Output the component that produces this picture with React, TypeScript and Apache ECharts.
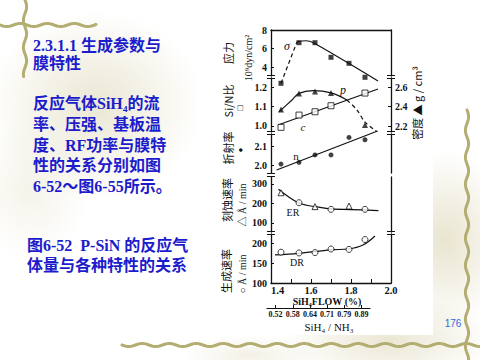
import React, { useEffect, useRef } from "react";
import * as echarts from "echarts";

// ---- data ----
const flowPts = [1.45, 1.54, 1.62, 1.7, 1.79, 1.87];
const stressPts = [2.24, 6.63, 6.63, 5.05, 4.4, 2.89];
const siNPts = [0.993, 1.056, 1.073, 1.104, null, 1.169];
const densityPts = [2.369, 2.533, 2.554, 2.538, null, 2.21];
const indexPts = [2.005, 2.014, 2.053, 2.053, 2.145, 2.133];
const erPts = [255, 204, 184, 170, 187, 170];
const erMarks = ["triangle", "circle", "triangle", "circle", "triangle", "circle"];
const drPts = [178, 176, 177, 186, 185, 210];

// hand-drawn fit curves [flow, value]
const stressFitDash = [[1.45, 2.24], [1.53, 6.72]];
const stressFit = [[1.53, 6.72], [1.575, 6.84], [1.61, 6.64], [1.935, 2.49]];
const siNFit = [[1.435, 1.005], [1.935, 1.19]];
const densityFit = [[1.44, 2.345], [1.505, 2.467], [1.54, 2.535], [1.61, 2.562], [1.7, 2.54], [1.78, 2.467]];
const densityFitDash = [[1.78, 2.467], [1.83, 2.364], [1.87, 2.24], [1.93, 2.142]];
const indexFit = [[1.428, 1.974], [1.933, 2.179]];
const erFit = [[1.437, 273], [1.487, 235], [1.537, 204], [1.578, 191], [1.62, 184], [1.7, 172], [1.8, 169], [1.937, 163]];
const drFit = [[1.42, 171], [1.537, 175], [1.7, 184], [1.787, 186], [1.86, 196], [1.92, 219]];

// tick labels
const flowLabels = [1.4, 1.6, 1.8, 2.0];
const flowTicks = [1.5, 1.6, 1.7, 1.8, 1.9];
const stressTicks = [4, 6, 8];
const siNTicks = [1.0, 1.1, 1.2];
const densityTicks = [2.2, 2.4, 2.6];
const indexTicks = [2.0, 2.1];
const erTicks = [100, 200, 300];
const drTicks = [100, 150, 200];
const ratioLabels = ["0.52", "0.58", "0.64", "0.71", "0.79", "0.89"];

const SERIF = '"Liberation Serif", "Noto Sans CJK SC", serif';
const CJK = '"Noto Sans CJK SC", "Liberation Serif", sans-serif';
const INK = "#111";
const BLUE = "#1c1ccc";

function pts(arr: (number | null)[]) {
  const out: number[][] = [];
  flowPts.forEach((x, i) => {
    if (arr[i] != null) out.push([x, arr[i] as number]);
  });
  return out;
}

function wavy(x0: number, y0: number, len: number, horizontal: boolean) {
  const p: number[][] = [];
  for (let t = 0; t <= len; t += 1.5) {
    const w = 1.6 * Math.sin((t / 27) * 2 * Math.PI);
    p.push(horizontal ? [x0 + t, y0 + w] : [x0 + w, y0 + t]);
  }
  return p;
}

export default function App() {
  const ref = useRef<HTMLDivElement>(null);
  useEffect(() => {
    if (!ref.current) return;
    const chart = echarts.init(ref.current, null, { renderer: "svg" });

    const L = 271, W = 120;
    const panels = [
      { top: 30, height: 46, min: 3.03, max: 8, ticks: stressTicks, dec: 0 },
      { top: 78, height: 54, min: 0.9692, max: 1.2462, ticks: siNTicks, dec: 1 },
      { top: 134, height: 39, min: 1.9579, max: 2.1632, ticks: indexTicks, dec: 1 },
      { top: 177, height: 55, min: 53.8, max: 335.9, ticks: erTicks, dec: 0 },
      { top: 234, height: 49, min: 100, max: 224, ticks: drTicks, dec: 0 },
    ];
    const grids: any[] = panels.map((p) => ({ left: L, width: W, top: p.top, height: p.height, outerBoundsMode: "none" }));
    grids.push({ left: 267, width: 103, top: 300, height: 8, outerBoundsMode: "none" });

    const labelStyle = { color: INK, fontSize: 10, fontFamily: SERIF, fontWeight: "bold" };
    const xAxes: any[] = panels.map((p, i) => {
      const base: any = { gridIndex: i, type: "value", min: 1.4, max: 2.0, splitLine: { show: false } };
      if (i === 0) {
        return { ...base, position: "top", axisLine: { show: true, onZero: false, lineStyle: { color: INK, width: 1.3 } }, axisTick: { show: false }, axisLabel: { show: false } };
      }
      if (i === 4) {
        return {
          ...base, position: "bottom",
          axisLine: { show: true, onZero: false, lineStyle: { color: INK, width: 1.3 } },
          axisTick: { show: true, inside: true, length: 4, customValues: flowTicks, lineStyle: { color: INK } },
          axisLabel: { show: true, customValues: flowLabels, formatter: (v: number) => v.toFixed(1), margin: 2, alignMinLabel: "left", ...labelStyle, fontSize: 10.5 },
        };
      }
      return { ...base, show: false };
    });
    xAxes.push({
      gridIndex: 5, type: "category", data: ratioLabels, position: "bottom",
      axisLine: { show: true, onZero: false, lineStyle: { color: INK, width: 1.2 } },
      axisTick: { show: true, inside: true, alignWithLabel: true, length: 3, lineStyle: { color: INK } },
      axisLabel: { show: true, interval: 0, margin: 2, color: INK, fontSize: 8, fontFamily: SERIF, fontWeight: "bold" },
      splitLine: { show: false },
    });

    const yAxes: any[] = panels.map((p, i) => ({
      gridIndex: i, type: "value", position: "left", min: p.min, max: p.max,
      axisLine: { show: true, onZero: false, lineStyle: { color: INK, width: 1.3 } },
      axisTick: { show: true, inside: true, length: 3, customValues: p.ticks, lineStyle: { color: INK } },
      axisLabel: { show: true, customValues: p.ticks, formatter: (v: number) => v.toFixed(p.dec), margin: 4, ...labelStyle },
      splitLine: { show: false },
    }));
    panels.forEach((p, i) => {
      if (i === 1) {
        yAxes.push({
          gridIndex: 1, type: "value", position: "right", min: 2.1385, max: 2.6923,
          axisLine: { show: true, onZero: false, lineStyle: { color: INK, width: 1.3 } },
          axisTick: { show: true, inside: true, length: 3, customValues: densityTicks, lineStyle: { color: INK } },
          axisLabel: { show: true, customValues: densityTicks, formatter: (v: number) => v.toFixed(1), margin: 4, ...labelStyle },
          splitLine: { show: false },
        });
      } else {
        yAxes.push({
          gridIndex: i, type: "value", position: "right", min: p.min, max: p.max,
          axisLine: { show: true, onZero: false, lineStyle: { color: INK, width: 1.3 } },
          axisTick: { show: false }, axisLabel: { show: false }, splitLine: { show: false },
        });
      }
    });
    yAxes.push({ gridIndex: 5, type: "value", show: false });

    const fit = (data: number[][], xi: number, yi: number, dashed = false, smooth: any = 0.35) => ({
      type: "line", xAxisIndex: xi, yAxisIndex: yi, data, smooth, showSymbol: false, symbol: "none",
      lineStyle: { color: INK, width: 1.2, type: dashed ? [4, 3] : "solid" }, clip: false, silent: true, z: 2,
    });
    const filled = { color: INK };
    const hollow = { color: "#fff", borderColor: INK, borderWidth: 1 };
    const scat = (data: any[], xi: number, yi: number, symbol: string, size: number, style: any) => ({
      type: "scatter", xAxisIndex: xi, yAxisIndex: yi, data, symbol, symbolSize: size, itemStyle: style, clip: false, silent: true, z: 4,
    });

    const series: any[] = [
      fit(stressFitDash, 0, 0, true, false),
      fit(stressFit, 0, 0, false, 0.3),
      fit(siNFit, 1, 1, false, false),
      fit(densityFit, 1, 6, false, 0.35),
      fit(densityFitDash, 1, 6, true, 0.3),
      fit(indexFit, 2, 2, false, false),
      fit(erFit, 3, 3, false, 0.35),
      fit(drFit, 4, 4, false, 0.35),
      scat(pts(stressPts), 0, 0, "rect", 5, filled),
      scat(pts(siNPts), 1, 1, "rect", 6, hollow),
      scat(pts(densityPts), 1, 6, "triangle", 6, filled),
      scat(pts(indexPts), 2, 2, "circle", 5, filled),
      scat(flowPts.map((x, i) => ({ value: [x, erPts[i]], symbol: erMarks[i] })), 3, 3, "circle", 6, hollow),
      scat(pts(drPts), 4, 4, "circle", 6, hollow),
    ];

    const beige = (cx: number, cy: number, rx: number, ry: number, a: number) => ({
      type: "ellipse", shape: { cx, cy, rx, ry }, z: -100, silent: true,
      style: {
        fill: new echarts.graphic.RadialGradient(0.5, 0.5, 0.5, [
          { offset: 0, color: `rgba(214,207,168,${a})` },
          { offset: 1, color: "rgba(214,207,168,0)" },
        ]),
      },
    });
    const deco = (points: number[][]) => ({
      type: "polyline", shape: { points }, z: -50, silent: true,
      style: { stroke: "#b3ad72", lineWidth: 3, fill: null, lineCap: "round" },
    });
    const brk = (x: number, y: number) => [
      { type: "line", shape: { x1: x - 4, y1: y - 1.5, x2: x + 4, y2: y - 1.5 }, z: 50, style: { stroke: INK, lineWidth: 1 } },
      { type: "line", shape: { x1: x - 4, y1: y + 1.5, x2: x + 4, y2: y + 1.5 }, z: 50, style: { stroke: INK, lineWidth: 1 } },
    ];
    const txt = (text: string, x: number, y: number, font: string, fill = INK, align = "left", rot = 0) => ({
      type: "text", x, y, rotation: rot, z: 100, silent: true,
      style: { text, font, fill, align, verticalAlign: "middle" },
    });
    const R = Math.PI / 2;
    const bodyFont = `bold 16px ${SERIF}`;

    const graphic: any[] = [
      beige(95, 105, 110, 95, 0.5),
      beige(30, 190, 60, 70, 0.25),
      beige(445, 240, 70, 90, 0.55),
      beige(390, 340, 110, 45, 0.5),
      beige(250, 355, 70, 20, 0.3),
      { type: "rect", shape: { x: 196, y: 0, width: 237, height: 335 }, z: -60, silent: true, style: { fill: "#fff" } },
      deco(wavy(0, 25, 97, true)),
      deco(wavy(25, 0, 77, false)),
      deco(wavy(122, 345, 358, true)),
      deco(wavy(467, 110, 250, false)),
      ...brk(271, 77), ...brk(271, 133), ...brk(271, 175), ...brk(271, 233),
      ...brk(391, 77), ...brk(391, 133), ...brk(391, 233),
      // left slide text
      txt("2.3.1.1 生成参数与", 33, 45, bodyFont, BLUE),
      txt("膜特性", 33, 63, bodyFont, BLUE),
      txt("反应气体SiH₄的流", 33, 103, bodyFont, BLUE),
      txt("率、压强、基板温", 33, 124, bodyFont, BLUE),
      txt("度、RF功率与膜特", 33, 145, bodyFont, BLUE),
      txt("性的关系分别如图", 33, 165, bodyFont, BLUE),
      txt("6-52～图6-55所示。", 33, 186, bodyFont, BLUE),
      txt("图6-52\u00a0\u00a0P-SiN 的反应气", 27, 245, bodyFont, BLUE),
      txt("体量与各种特性的关系", 27, 265, bodyFont, BLUE),
      txt("176", 453, 323, `10px "Liberation Sans", sans-serif`, "#3366dd", "center"),
      // axis titles
      txt("应力", 228, 53, `11px ${CJK}`, INK, "center", R),
      txt("10⁹dyn/cm²", 248, 58, `10px ${SERIF}`, INK, "center", R),
      txt("Si/N比", 228, 101, `11px ${CJK}`, INK, "center", R),
      txt("□", 240, 108, `9px ${SERIF}`, INK, "center", R),
      txt("折射率", 228, 148, `11px ${CJK}`, INK, "center", R),
      txt("●", 240, 150, `8px ${SERIF}`, INK, "center", R),
      txt("刻蚀速率", 227, 200, `11px ${CJK}`, INK, "center", R),
      txt("△ Å / min", 242, 205, `10px ${SERIF}`, INK, "center", R),
      txt("生成速率", 226, 271, `11px ${CJK}`, INK, "center", R),
      txt("○ Å / min", 242, 274, `10px ${SERIF}`, INK, "center", R),
      txt("密度 ▲ g / cm³", 417, 103, `11px ${CJK}`, INK, "center", R),
      // curve annotations
      txt("σ", 287, 46, `italic 12px ${SERIF}`, INK, "center"),
      txt("p", 343, 90, `italic 12px ${SERIF}`, INK, "center"),
      txt("c", 303, 127, `italic 11px ${SERIF}`, INK, "center"),
      txt("n", 296, 156, `11px ${SERIF}`, INK, "center"),
      txt("ER", 293, 212, `10px ${SERIF}`, INK, "center"),
      txt("DR", 297, 262, `10px ${SERIF}`, INK, "center"),
      // x axis titles
      txt("SiH₄FLOW (%)", 327, 301.5, `bold 10px ${SERIF}`, INK, "center"),
      txt("SiH₄ / NH₃", 329, 327, `11px ${SERIF}`, INK, "center"),
    ];

    chart.setOption({
      animation: false,
      backgroundColor: "#fff",
      grid: grids,
      xAxis: xAxes,
      yAxis: yAxes,
      series,
      graphic,
    });
    return () => chart.dispose();
  }, []);
  return <div ref={ref} style={{ position: "fixed", left: 0, top: 0, width: 480, height: 360 }} />;
}
